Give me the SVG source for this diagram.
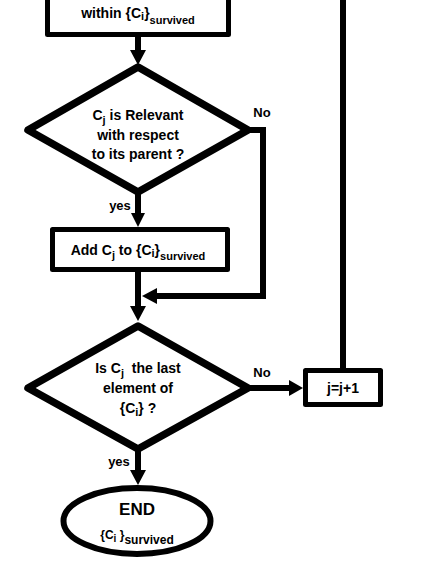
<svg xmlns="http://www.w3.org/2000/svg" width="436" height="564" viewBox="0 0 436 564">
<style>
.box{fill:#fff;stroke:#000;stroke-width:5;stroke-linejoin:round}
.dia{fill:#fff;stroke:#000;stroke-width:7.5;stroke-linejoin:round}
.ln{fill:none;stroke:#000;stroke-width:6}
.ah{fill:#000}
text{font-family:"Liberation Sans",Arial,sans-serif;font-weight:bold;font-size:14px;fill:#000}
.sub{font-size:11px}
.lbl{font-size:13px}
</style>
<rect width="436" height="564" fill="#fff"/>
<g id="connectors">
<line class="ln" x1="138" y1="36" x2="138" y2="52"/>
<polygon class="ah" points="130,50 146,50 138,65"/>
<polyline class="ln" points="248,130 263,130 263,296 155,296"/>
<polygon class="ah" points="157,288 157,304 142,296"/>
<line class="ln" x1="138" y1="192" x2="138" y2="215"/>
<polygon class="ah" points="131,213 145,213 138,227"/>
<line class="ln" x1="138" y1="271" x2="138" y2="308"/>
<polygon class="ah" points="130,306 146,306 138,321"/>
<line class="ln" x1="248" y1="388" x2="291" y2="388"/>
<polygon class="ah" points="289,380 289,396 303,388"/>
<line class="ln" x1="343" y1="0" x2="343" y2="369"/>
<line class="ln" x1="138" y1="450" x2="138" y2="472"/>
<polygon class="ah" points="130,470 146,470 138,485"/>
<text class="lbl" x="262" y="117" text-anchor="middle">No</text>
<text class="lbl" x="120" y="210" text-anchor="middle">yes</text>
<text class="lbl" x="262" y="377" text-anchor="middle">No</text>
<text class="lbl" x="119" y="466" text-anchor="middle">yes</text>
</g>
<g id="node-top">
<rect class="box" x="47.5" y="-10" width="181" height="44.5"/>
<text x="138" y="18" text-anchor="middle">within {C<tspan class="sub" dy="2">i</tspan><tspan dy="-2">}</tspan><tspan class="sub" dy="6">survived</tspan></text>
</g>
<g id="node-relevant">
<polygon class="dia" points="138,67 248,130 138,192 28,130"/>
<text x="138" y="120" text-anchor="middle">C<tspan class="sub" dy="4">j</tspan><tspan dy="-4"> is Relevant</tspan></text>
<text x="138" y="140" text-anchor="middle">with respect</text>
<text x="138" y="159" text-anchor="middle">to its parent ?</text>
</g>
<g id="node-add">
<rect class="box" x="52.5" y="229.5" width="175" height="40"/>
<text x="138" y="255" text-anchor="middle">Add C<tspan class="sub" dy="4">j</tspan><tspan dy="-4"> to {C</tspan><tspan class="sub" dy="2">i</tspan><tspan dy="-2">}</tspan><tspan class="sub" dy="5">survived</tspan></text>
</g>
<g id="node-last">
<polygon class="dia" points="138,326 248,388 138,449 28,388"/>
<text x="138" y="373" text-anchor="middle" xml:space="preserve">Is C<tspan class="sub" dy="4">j</tspan><tspan dy="-4">  the last</tspan></text>
<text x="138" y="393" text-anchor="middle">element of</text>
<text x="138" y="413" text-anchor="middle">{C<tspan class="sub" dy="3">i</tspan><tspan dy="-3">} ?</tspan></text>
</g>
<g id="node-inc">
<rect class="box" x="305.5" y="370.5" width="75" height="34"/>
<text x="343" y="393" text-anchor="middle">j=j+1</text>
</g>
<g id="node-end">
<ellipse cx="137" cy="521" rx="73.5" ry="33" fill="#fff" stroke="#000" stroke-width="6"/>
<text x="137" y="515" text-anchor="middle" style="font-size:17px">END</text>
<text x="137" y="539" text-anchor="middle" style="font-size:12px">{C<tspan class="sub" dy="3" style="font-size:10px">i</tspan><tspan dy="-3"> }</tspan><tspan dy="5">survived</tspan></text>
</g>
</svg>
